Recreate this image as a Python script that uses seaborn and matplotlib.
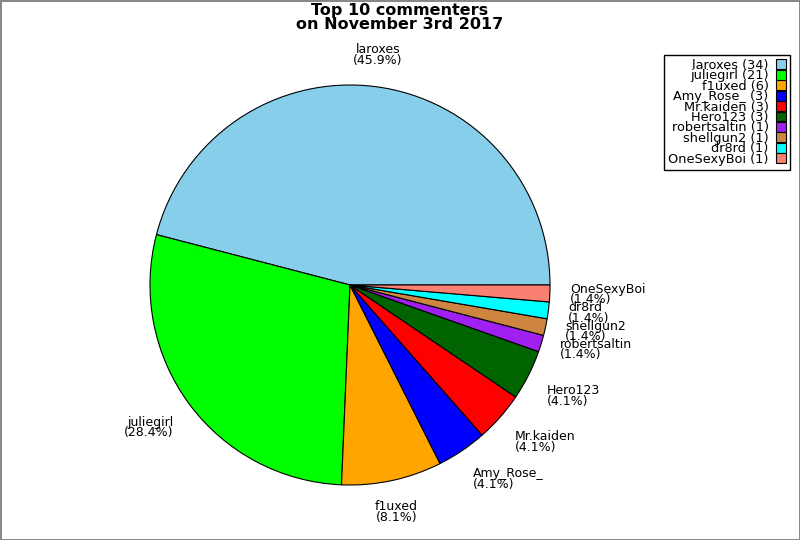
import numpy as np
import matplotlib
matplotlib.use("Agg")
import matplotlib.pyplot as plt
import seaborn as sns

names = ["laroxes", "juliegirl", "f1uxed", "Amy_Rose_", "Mr.kaiden", "Hero123",
         "robertsaltin", "shellgun2", "dr8rd", "OneSexyBoi"]
counts = [34, 21, 6, 3, 3, 3, 1, 1, 1, 1]
colors = ["#87CEEB", "#00FF00", "#FFA500", "#0000FF", "#FF0000", "#006400",
          "#A020F0", "#CD853F", "#00FFFF", "#FA8072"]
title = "Top 10 commenters\non November 3rd 2017"

sns.set_theme(style="white")
plt.rcParams['font.family'] = ['DejaVu Sans']
plt.rcParams['text.color'] = 'black'

fig = plt.figure(figsize=(8, 5.4), dpi=100)
fig.patch.set_facecolor("white")
fig.patch.set_edgecolor("#888888")
fig.patch.set_linewidth(2)

ax = fig.add_axes([150/800, 55/540, 400/800, 400/540])
palette = sns.color_palette(colors)
total = sum(counts)
wedges, _ = ax.pie(counts, colors=palette, startangle=0, counterclock=True,
                   wedgeprops=dict(edgecolor="black", linewidth=0.8))
ax.set_xlim(-1, 1)
ax.set_ylim(-1, 1)
ax.set_aspect("equal")
ax.axis("off")

for w, n, c in zip(wedges, names, counts):
    ang = np.deg2rad((w.theta1 + w.theta2) / 2)
    x, y = 1.1 * np.cos(ang), 1.1 * np.sin(ang)
    cx, sy = np.cos(ang), np.sin(ang)
    if abs(cx) < 0.3:
        ha = "center"
    else:
        ha = "left" if cx > 0 else "right"
    if sy > 0.4:
        va = "bottom"
    elif sy < -0.4:
        va = "top"
    else:
        va = "center"
    pct = 100.0 * c / total
    ax.text(x, y, f"{n}\n({pct:.1f}%)", ha=ha, va=va, fontsize=9,
            linespacing=0.75, color="black", clip_on=False)

labels = [f"{n} ({c})" for n, c in zip(names, counts)]
leg = fig.legend(wedges, labels, loc="upper right",
                 bbox_to_anchor=(790/800, 1 - 55/540), borderaxespad=0,
                 markerfirst=False, fontsize=9.3, frameon=True, fancybox=False,
                 edgecolor="black", framealpha=1, handlelength=0.75,
                 handleheight=0.8, handletextpad=0.6, labelspacing=-0.2,
                 borderpad=0.3)
for t in leg.get_texts():
    t.set_ha("right")
    t.set_color("black")
leg.get_frame().set_linewidth(1)

fig.suptitle(title, x=0.5, y=1 - 3/540, va="top", fontsize=11.5,
             fontweight="bold", linespacing=0.95, color="black")

fig.savefig("out.png", dpi=100, facecolor=fig.get_facecolor(),
            edgecolor=fig.get_edgecolor())
